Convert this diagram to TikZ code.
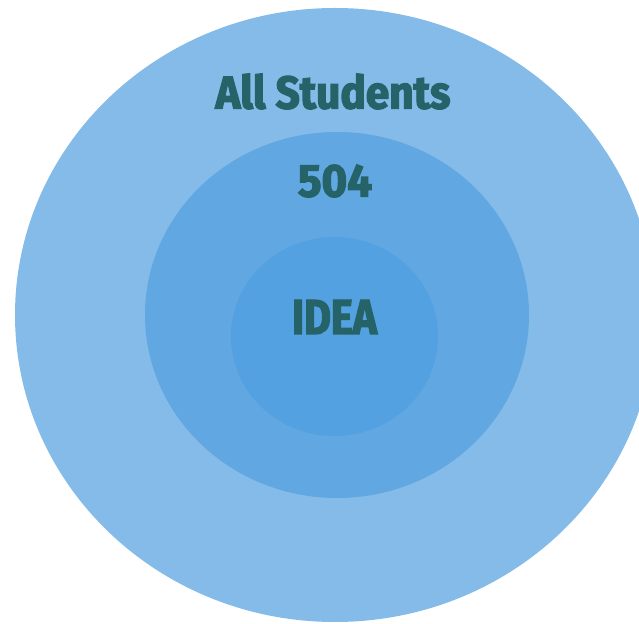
\documentclass[tikz,border=0pt]{standalone}
\usepackage{fontspec}
\usepackage{graphicx}
\usepackage{tikz}
\usetikzlibrary{shapes.geometric, positioning}
\newfontfamily\labelfont[FakeStretch=0.8, BoldFeatures={FakeBold=2.5}]{Fira Sans}
\definecolor{outerblue}{HTML}{85BBE8}
\definecolor{midblue}{HTML}{61A7E1}
\definecolor{innerblue}{HTML}{53A1E0}
\definecolor{labelteal}{HTML}{256368}
\tikzstyle{ring} = [ellipse, inner sep=0pt, draw=none]
\tikzstyle{label} = [inner sep=0pt, text=labelteal, font=\labelfont\bfseries]

\begin{document}
\begin{tikzpicture}[x=1pt, y=1pt]
\useasboundingbox (0,0) rectangle (639,623);
\clip (0,0) rectangle (639,623);
% Define rings
\node (allRing) [ring, fill=outerblue, minimum width=640pt, minimum height=614pt] at (335,308) {};
\node (sectionRing) [ring, fill=midblue, minimum width=384pt, minimum height=366pt] at (337,308) {};
\node (ideaRing) [ring, fill=innerblue, minimum width=207pt, minimum height=199pt] at (334.5,286.5) {};
% Labels
\node (allStudents) [label] at (333,531.5) {\resizebox{235pt}{35pt}{All Students}};
\node (section504) [label] at (335,442) {\resizebox{74pt}{32pt}{504}};
\node (idea) [label] at (334.5,306) {\resizebox{85pt}{34pt}{IDEA}};
\end{tikzpicture}
\end{document}
